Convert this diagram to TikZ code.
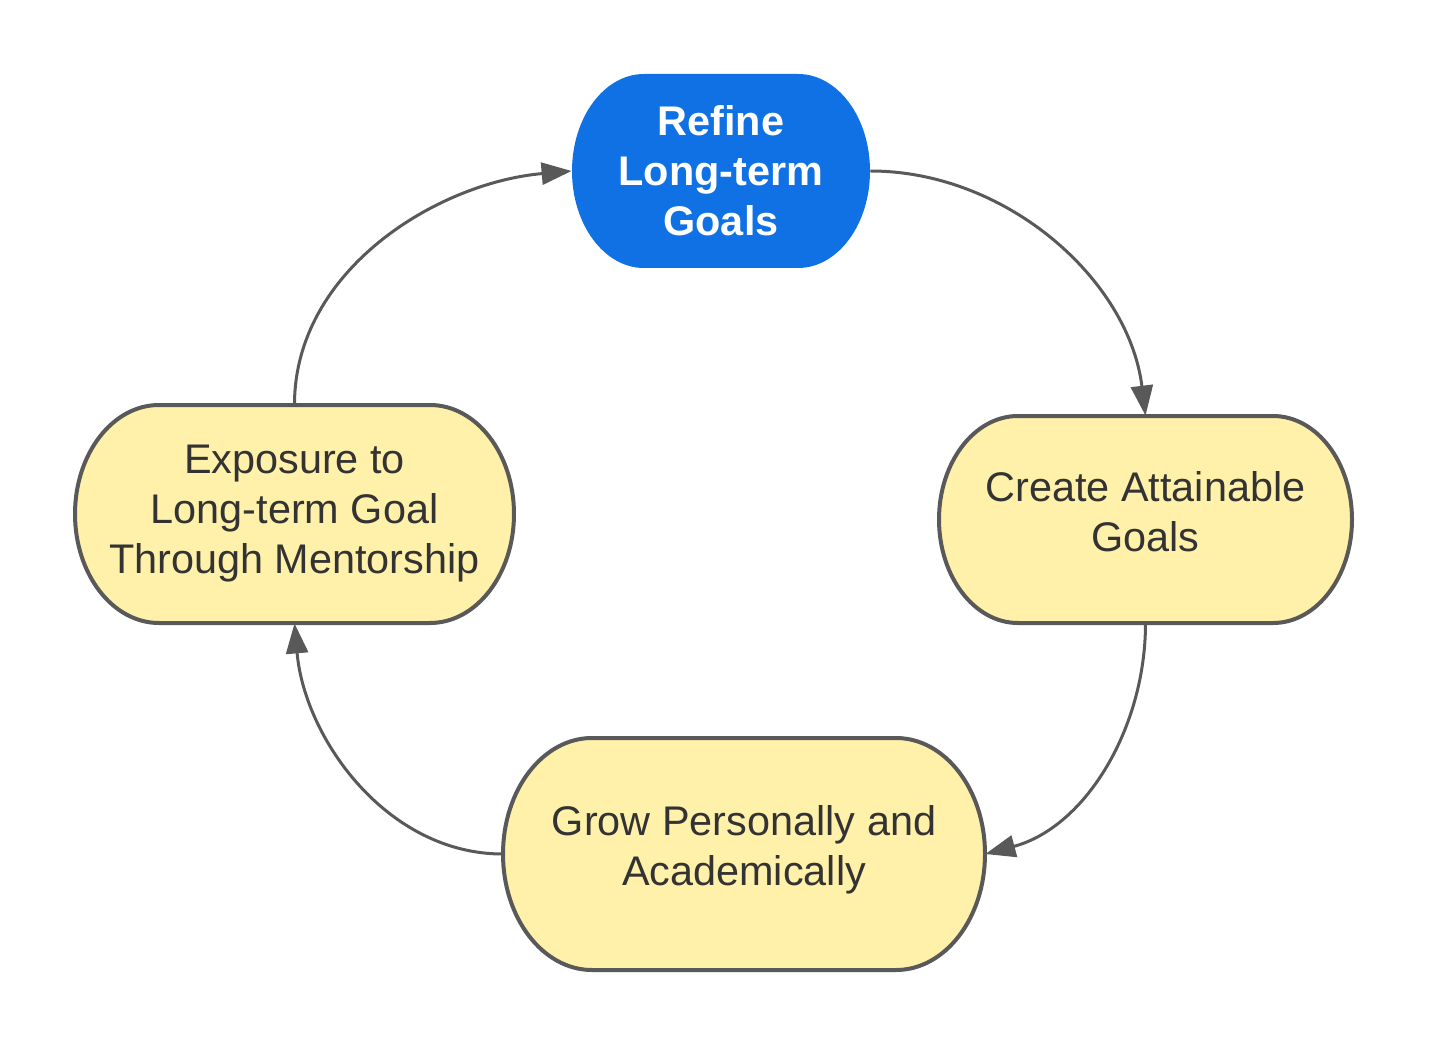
\documentclass[tikz,border=0pt]{standalone}
\usepackage{fontspec}
\setmainfont{Liberation Sans}
\usetikzlibrary{arrows.meta}
\definecolor{blueb}{HTML}{1071E5}
\definecolor{yel}{HTML}{FFF1AA}
\definecolor{edgec}{HTML}{595959}
\definecolor{txt}{HTML}{333333}
\newcommand\termshape[6]{%
 \pgfmathsetmacro\tbL{#2-#4/2+#6}%
 \pgfmathsetmacro\tbR{#2+#4/2-#6}%
 \pgfmathsetmacro\tbT{#3-#5/2}%
 \pgfmathsetmacro\tbB{#3+#5/2}%
 \pgfmathsetmacro\tbRY{#5/4}%
 \pgfmathsetmacro\tbRX{#6/2}%
 \path[#1] (\tbL,\tbT) -- (\tbR,\tbT) arc[start angle=90,end angle=-90,x radius=\tbRX pt,y radius=\tbRY pt] -- (\tbL,\tbB) arc[start angle=270,end angle=90,x radius=\tbRX pt,y radius=\tbRY pt] -- cycle;}
\newcommand\liftlines[2]{\raisebox{#1}[0pt][0pt]{\begin{tabular}{@{}c@{}}#2\end{tabular}}}
\tikzset{
 yelshape/.style={fill=yel,draw=edgec,line width=2pt},
 blueshape/.style={fill=blueb},
 boxnode/.style={inner sep=0pt,align=center,text=txt,font=\fontsize{20.7}{25}\selectfont},
 bluenode/.style={inner sep=0pt,align=center,text=white,font=\fontsize{20.7}{25}\selectfont\bfseries},
 conn/.style={draw=edgec,line width=1.5pt,-{Triangle[length=15pt,width=11pt]}}
}
\begin{document}
\begin{tikzpicture}[x=0.5pt,y=-0.5pt]
\useasboundingbox (0,0) rectangle (1429,1048);
% shapes
\termshape{blueshape}{721}{171}{298}{194}{72}
\termshape{yelshape}{1145.5}{519.5}{413}{207}{79}
\termshape{yelshape}{744}{854}{482}{232}{89}
\termshape{yelshape}{294.5}{514}{439}{218}{84}
% nodes
\node[bluenode,minimum width=149pt,minimum height=97pt] (refine) at (721,171) {Refine\\Long-term\\Goals};
\node[boxnode,minimum width=206.5pt,minimum height=103.5pt] (create) at (1145.5,519.5) {\liftlines{-3.9pt}{Create Attainable\\Goals}};
\node[boxnode,minimum width=241pt,minimum height=116pt] (grow) at (744,854) {\liftlines{-3.2pt}{Grow Personally and\\Academically}};
\node[boxnode,minimum width=219.5pt,minimum height=109pt] (expo) at (294.5,514) {Exposure to\\Long-term Goal\\Through Mentorship};
% connectors
\draw[conn] (refine.east) to[out=0,in=97,looseness=0.95] (create.north);
\draw[conn] (create.south) to[out=-90,in=15,looseness=0.95] (grow.east);
\draw[conn] (grow.west) to[out=180,in=-85,looseness=0.95] (expo.south);
\draw[conn] (expo.north) to[out=90,in=185,looseness=0.95] (refine.west);
\end{tikzpicture}
\end{document}
